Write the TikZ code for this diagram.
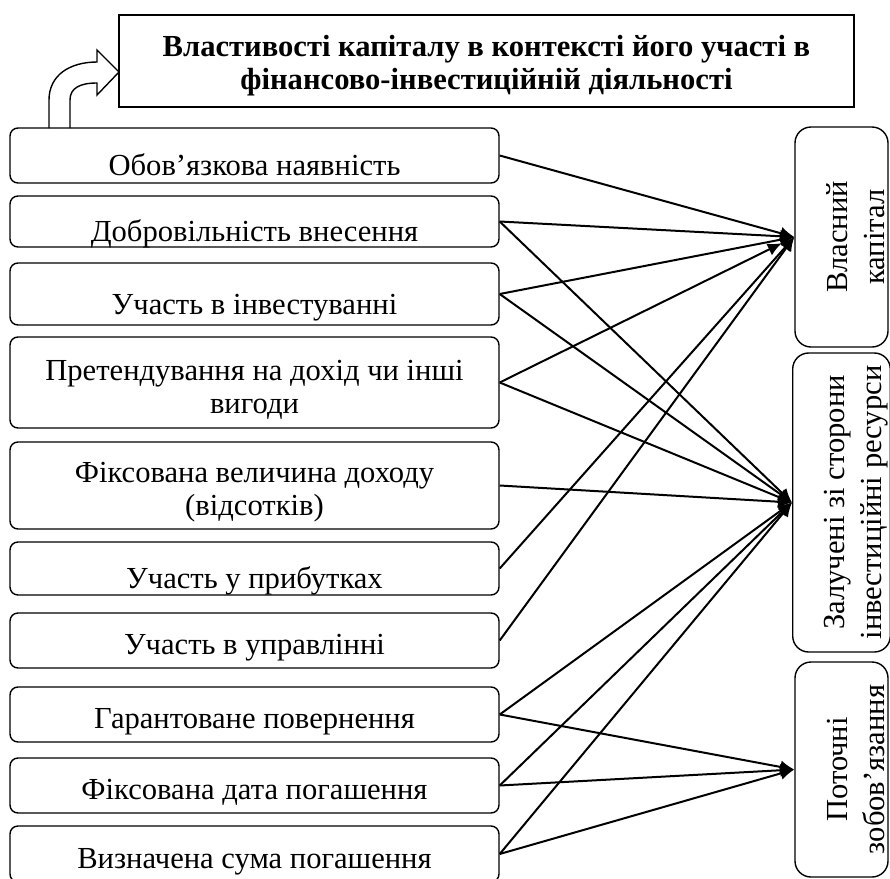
\documentclass[tikz,border=0pt]{standalone}
\usepackage{fontspec}
\setmainfont{Liberation Serif}
\usetikzlibrary{arrows.meta}
\begin{document}
\begin{tikzpicture}[x=0.5pt,y=-0.5pt]
	\tikzstyle{prop node}=[draw,line width=0.7pt,rounded corners=4pt,minimum width=244.5pt,align=center,inner sep=1pt,font=\fontsize{15.3}{16.5}\selectfont]
	\tikzstyle{one line}=[text height=20pt,text depth=0pt]
	\tikzstyle{kind node}=[draw,line width=0.7pt,rounded corners=8pt,minimum height=46.5pt,rotate=90,align=center,inner sep=1pt,font=\fontsize{15.3}{18.5}\selectfont]
	\tikzstyle{link}=[line width=1pt,-{Latex[length=7pt,width=6.5pt]}]
	\useasboundingbox (0,0) rectangle (890,879);
	\node(t)[draw,line width=0.7pt,minimum width=367.5pt,minimum height=46pt,align=center,font=\bfseries\fontsize{15.3}{16.5}\selectfont] at (486.5,61)
		{\rule{0pt}{15pt}Властивості капіталу в контексті його участі в\\фінансово-інвестиційній діяльності};
	% left column
	\node(l1)[prop node,one line,minimum height=27.5pt] at (254.5,155.5){Обов’язкова наявність};
	\node(l2)[prop node,one line,minimum height=25.5pt] at (254.5,221.5){Добровільність внесення};
	\node(l3)[prop node,one line,minimum height=31pt] at (254.5,294){Участь в інвестуванні};
	\node(l4)[prop node,minimum height=45.5pt] at (254.5,382.5){\rule{0pt}{17pt}Претендування на дохід чи інші\\вигоди};
	\node(l5)[prop node,minimum height=43.5pt] at (254.5,485.5){\rule{0pt}{17pt}Фіксована величина доходу\\(відсотків)};
	\node(l6)[prop node,one line,minimum height=26.5pt] at (254.5,568.5){Участь у прибутках};
	\node(l7)[prop node,one line,text height=14pt,minimum height=27.5pt] at (254.5,640.5){Участь в управлінні};
	\node(l8)[prop node,one line,text height=14pt,minimum height=27.5pt] at (254.5,714.5){Гарантоване повернення};
	\node(l9)[prop node,one line,text height=14pt,minimum height=27.5pt] at (254.5,785.5){Фіксована дата погашення};
	\node(l10)[prop node,one line,text height=14pt,minimum height=28pt] at (254.5,854){Визначена сума погашення};
	% right column
	\node(r1)[kind node,minimum width=110pt] at (841.5,237){\rule{0pt}{25pt}Власний\\капітал};
	\node(r2)[kind node,minimum width=149.5pt] at (841.5,502.5){\rule{0pt}{25pt}Залучені зі сторони\\інвестиційні ресурси};
	\node(r3)[kind node,minimum width=107.5pt] at (841.5,769.5){\rule{0pt}{25pt}Поточні\\зобов’язання};
	% bent arrow to the title
	\draw[line width=0.7pt,line join=miter] (49,128) -- (49,100) .. controls (49,75) and (70,62) .. (97,62) -- (97,50) -- (119,72)
		-- (97,95) -- (97,83) .. controls (80,83) and (70,88) .. (70,100) -- (70,128);
	\foreach \a/\b in {l1/r1,l2/r1,l3/r1,l6/r1,l7/r1,l2/r2,l3/r2,l4/r2,l5/r2,l8/r2,l9/r2,l10/r2,l8/r3,l9/r3,l10/r3}
		\draw[link](\a.east)--(\b.north);
	\draw[link,shorten >=7pt](l4.east)--(r1.north);
\end{tikzpicture}
\end{document}
